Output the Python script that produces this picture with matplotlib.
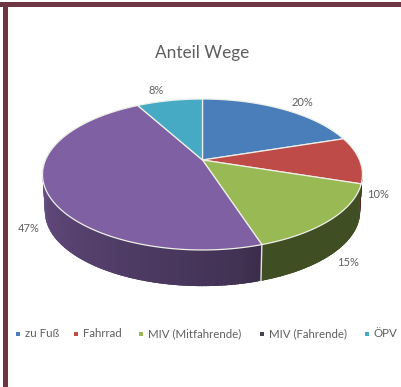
import matplotlib
matplotlib.use('Agg')
import matplotlib.pyplot as plt
import numpy as np

categories = ["zu Fuß", "Fahrrad", "MIV (Mitfahrende)", "MIV (Fahrende)", "ÖPV"]
shares = [20, 10, 15, 47, 8]

slice_colors = ["#4a7ebb", "#be4b48", "#98b954", "#7f60a2", "#46aac4"]
legend_colors = ["#4a7ebb", "#be4b48", "#98b954", "#454552", "#46aac4"]

# pie placement in pixels
CX, CY = 202.5, 160.0
RX, RY = 157.0, 72.7
TILT = 0.192
DEPTH = 37.5
FONT = "Lato"
TEXT_COL = "#5f5f5f"


def project(theta, scale=1.0, drop=0.0):
    # theta runs clockwise from 12 o'clock, near side of the disc gets bigger
    x = np.sin(theta)
    y = np.cos(theta)
    w = 1 + TILT * y
    return CX + scale * RX * x / w, CY - scale * RY * y / w + drop


def side_shade(color, f):
    rgb = np.array(matplotlib.colors.to_rgb(color))
    return tuple(rgb * f)


fig = plt.figure(figsize=(4.02, 3.87), dpi=100)
ax = fig.add_axes([0, 0, 1, 1])
ax.set_xlim(0, 402)
ax.set_ylim(387, 0)
ax.axis("off")

# frame around the chart
ax.fill([0, 402, 402, 0], [2, 2, 7, 7], color="#6e3542", lw=0)
ax.fill([3.5, 8, 8, 3.5], [2, 2, 387, 387], color="#6e3542", lw=0)

edges = np.radians(np.cumsum([0] + shares) * 3.6)

# side wall, only the part facing the viewer
for i in range(len(shares)):
    a0, a1 = max(edges[i], np.radians(97)), min(edges[i + 1], np.radians(287))
    if a1 <= a0:
        continue
    steps = np.linspace(a0, a1, int(np.degrees(a1 - a0)) + 2)
    for s0, s1 in zip(steps[:-1], steps[1:]):
        # each strip runs under the next one so no gaps show between them
        s2 = min(s1 + np.radians(1.5), a1)
        x0, y0 = project(s0)
        x1, y1 = project(s2)
        x2, y2 = project(s2, 0.985, DEPTH)
        x3, y3 = project(s0, 0.985, DEPTH)
        mid = np.degrees((s0 + s1) / 2)
        if mid < 162:
            f = 0.42
        else:
            f = np.interp(mid, [162, 170, 230, 287], [0.46, 0.52, 0.7, 0.88])
        c = side_shade(slice_colors[i], f)
        ax.fill([x0, x1, x2, x3], [y0, y1, y2, y3], color=c, lw=0, zorder=2)

# seam between the two visible walls
sx, sy = project(edges[3])
bx, by = project(edges[3], 0.985, DEPTH)
ax.plot([sx, bx], [sy, by], color="#e4e2e8", lw=1, zorder=3)

# top of the disc
for i in range(len(shares)):
    t = np.linspace(edges[i], edges[i + 1], 120)
    px, py = project(t)
    ax.fill(np.r_[CX, px], np.r_[CY, py], facecolor=slice_colors[i],
            edgecolor="#eef0e8", lw=0.9, joinstyle="round", zorder=4)

ax.text(202, 53, "Anteil Wege", family=FONT, fontsize=12.4, color=TEXT_COL, ha="center", va="center")

label_pos = [(302, 103), (378, 194), (348, 263), (29, 229), (156, 90)]
for v, (lx, ly) in zip(shares, label_pos):
    ax.text(lx, ly, f"{v}%", family=FONT, fontsize=8, color=TEXT_COL, ha="center", va="center")

legend_x = [18, 76, 141, 262, 367]
for name, col, lx in zip(categories, legend_colors, legend_x):
    ax.scatter([lx], [333.5], marker="s", s=6.5, color=col, lw=0)
    ax.text(lx + 7, 333.5, name, family=FONT, fontsize=8.3, color=TEXT_COL, ha="left", va="center")

fig.savefig("out.png", dpi=100)
